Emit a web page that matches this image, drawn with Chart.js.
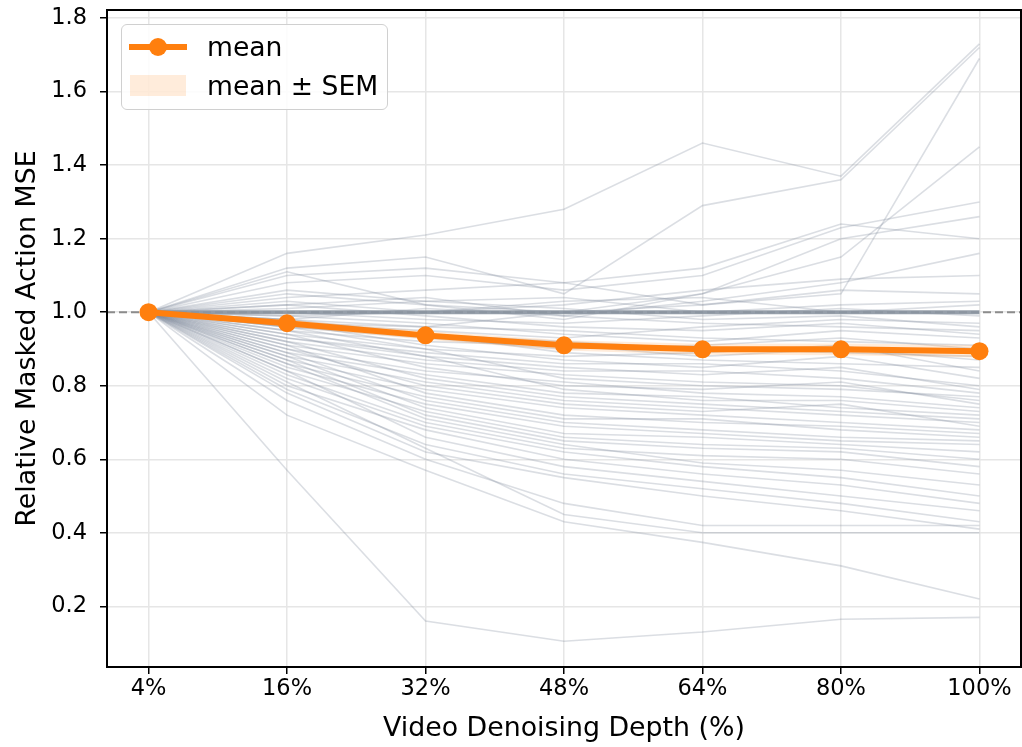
<!DOCTYPE html>
<html>
<head>
<meta charset="utf-8">
<script src="https://cdn.jsdelivr.net/npm/chart.js@4.4.1/dist/chart.umd.min.js"></script>
<style>
  html, body { margin: 0; padding: 0; background: #fff; overflow: hidden; }
  #wrap { position: relative; width: 1022px; height: 747px; overflow: hidden; font-family: "DejaVu Sans", sans-serif; }
  #myChart { display: block; }
  #legend {
    position: absolute; left: 121px; top: 24px; width: 265px; height: 84px;
    border: 1.5px solid #d0d0d0; border-radius: 6px; background: rgba(255,255,255,0.85);
  }
  .row { position: absolute; left: 0; height: 30px; width: 100%; }
  .row span { position: absolute; left: 85px; top: 0; font-size: 26.6px; line-height: 30px; color: #000; }
  .meanLine { position: absolute; left: 7px; top: 12px; width: 58px; height: 6px; background: #ff7f0e; }
  .meanDot { position: absolute; left: 27px; top: 6px; width: 18px; height: 18px; border-radius: 50%; background: #ff7f0e; }
  .semPatch { position: absolute; left: 8px; top: 4px; width: 56px; height: 21px; background: rgba(255,127,14,0.15); }
</style>
</head>
<body>
<div id="wrap">
  <canvas id="myChart" width="1030" height="747"></canvas>
  <div id="legend">
    <div class="row" style="top:7px"><div class="meanLine"></div><div class="meanDot"></div><span>mean</span></div>
    <div class="row" style="top:46px"><div class="semPatch"></div><span>mean ± SEM</span></div>
  </div>
</div>
<script>
// x categories
const depthLabels = ["4%", "16%", "32%", "48%", "64%", "80%", "100%"];
const yTicks = [0.2, 0.4, 0.6, 0.8, 1.0, 1.2, 1.4, 1.6, 1.8];

// mean and SEM across runs
const meanValues = [1.0, 0.970, 0.937, 0.910, 0.899, 0.899, 0.894];
const semValues = [0.0, 0.010, 0.012, 0.014, 0.015, 0.016, 0.017];

// run that stays on the baseline
const baselineTrace = [1, 1, 1, 1, 1, 1, 1];

// individual runs (approx)
const traces = [
  [1, 1.16, 1.21, 1.28, 1.46, 1.37, 1.73],
  [1, 1.12, 1.15, 1.05, 1.29, 1.36, 1.72],
  [1, 1.10, 1.12, 1.08, 1.02, 1.05, 1.69],
  [1, 1.05, 1.02, 0.98, 1.05, 1.15, 1.45],
  [1, 1.08, 1.10, 1.06, 1.10, 1.23, 1.30],
  [1, 1.04, 1.06, 1.08, 1.12, 1.24, 1.20],
  [1, 1.11, 1.02, 1.00, 1.05, 1.20, 1.26],
  [1, 1.03, 1.00, 1.02, 1.06, 1.09, 1.10],
  [1, 1.02, 1.04, 0.99, 1.03, 1.08, 1.16],
  [1, 0.98, 0.96, 1.00, 1.02, 1.06, 1.05],
  [1, 1.01, 1.03, 1.04, 1.00, 1.02, 1.03],
  [1, 0.99, 1.00, 1.03, 1.04, 1.00, 1.02],
  [1, 1.00, 0.98, 0.97, 0.99, 1.01, 0.99],
  [1, 0.98, 1.01, 0.99, 0.97, 0.96, 0.95],
  [1, 1.02, 0.99, 0.96, 0.95, 0.97, 0.94],
  [1, 0.97, 0.96, 0.95, 0.93, 0.92, 0.91],
  [1, 1.06, 1.03, 1.01, 0.98, 0.99, 0.96],
  [1, 0.96, 0.94, 0.92, 0.90, 0.89, 0.88],
  [1, 0.97, 0.95, 0.93, 0.96, 0.98, 0.97],
  [1, 0.99, 0.97, 0.94, 0.92, 0.95, 0.93],
  [1, 0.96, 0.93, 0.90, 0.91, 0.93, 0.90],
  [1, 0.95, 0.92, 0.91, 0.88, 0.90, 0.87],
  [1, 0.98, 0.94, 0.89, 0.87, 0.86, 0.85],
  [1, 0.94, 0.90, 0.88, 0.89, 0.91, 0.84],
  [1, 0.97, 0.91, 0.87, 0.85, 0.88, 0.82],
  [1, 0.93, 0.89, 0.86, 0.86, 0.84, 0.80],
  [1, 0.95, 0.88, 0.85, 0.83, 0.85, 0.79],
  [1, 0.92, 0.87, 0.84, 0.84, 0.82, 0.78],
  [1, 0.96, 0.90, 0.82, 0.80, 0.79, 0.77],
  [1, 0.91, 0.86, 0.83, 0.81, 0.80, 0.76],
  [1, 0.94, 0.85, 0.80, 0.79, 0.81, 0.75],
  [1, 0.90, 0.84, 0.81, 0.78, 0.77, 0.74],
  [1, 0.93, 0.88, 0.79, 0.76, 0.76, 0.73],
  [1, 0.89, 0.83, 0.78, 0.77, 0.74, 0.72],
  [1, 0.92, 0.82, 0.77, 0.75, 0.73, 0.71],
  [1, 0.88, 0.81, 0.76, 0.74, 0.72, 0.70],
  [1, 0.90, 0.80, 0.75, 0.73, 0.75, 0.69],
  [1, 0.87, 0.79, 0.74, 0.72, 0.70, 0.68],
  [1, 0.91, 0.78, 0.72, 0.70, 0.69, 0.67],
  [1, 0.86, 0.77, 0.71, 0.71, 0.68, 0.66],
  [1, 0.89, 0.76, 0.70, 0.68, 0.66, 0.65],
  [1, 0.85, 0.75, 0.69, 0.67, 0.65, 0.64],
  [1, 0.88, 0.74, 0.67, 0.66, 0.64, 0.62],
  [1, 0.84, 0.73, 0.66, 0.64, 0.63, 0.60],
  [1, 0.87, 0.72, 0.65, 0.63, 0.62, 0.58],
  [1, 0.83, 0.70, 0.63, 0.61, 0.60, 0.56],
  [1, 0.86, 0.71, 0.64, 0.59, 0.57, 0.53],
  [1, 0.82, 0.69, 0.62, 0.58, 0.55, 0.50],
  [1, 0.80, 0.68, 0.60, 0.56, 0.53, 0.48],
  [1, 0.84, 0.66, 0.58, 0.54, 0.50, 0.46],
  [1, 0.79, 0.64, 0.56, 0.52, 0.48, 0.43],
  [1, 0.81, 0.63, 0.45, 0.40, 0.40, 0.40],
  [1, 0.78, 0.62, 0.55, 0.50, 0.46, 0.41],
  [1, 0.76, 0.60, 0.48, 0.42, 0.42, 0.42],
  [1, 0.72, 0.57, 0.43, 0.374, 0.31, 0.22],
  [1, 0.57, 0.16, 0.105, 0.13, 0.165, 0.17],
];

const toPoints = (arr) => arr.map((v, i) => ({ x: i, y: v }));

const datasets = [];
// mean line on top
datasets.push({
  data: toPoints(meanValues),
  borderColor: "#ff7f0e",
  backgroundColor: "#ff7f0e",
  borderWidth: 6,
  pointRadius: 9,
  pointBorderWidth: 0,
  order: 0,
});
// SEM band (upper fills down to lower)
datasets.push({
  data: toPoints(meanValues.map((m, i) => m + semValues[i])),
  borderWidth: 0,
  pointRadius: 0,
  backgroundColor: "rgba(255,127,14,0.15)",
  fill: "+1",
  order: 1,
});
datasets.push({
  data: toPoints(meanValues.map((m, i) => m - semValues[i])),
  borderWidth: 0,
  pointRadius: 0,
  fill: false,
  order: 1,
});
datasets.push({
  data: toPoints(baselineTrace),
  borderColor: "rgba(140,150,162,0.9)",
  borderWidth: 4,
  pointRadius: 0,
  order: 2,
});
traces.forEach((t) => {
  datasets.push({
    data: toPoints(t),
    borderColor: "rgba(125,138,155,0.28)",
    borderWidth: 1.6,
    pointRadius: 0,
    order: 3,
  });
});

// dashed reference line at y = 1 across the full axes
const refLine = {
  id: "refLine",
  beforeDatasetsDraw(chart) {
    const { ctx, chartArea, scales } = chart;
    const y = scales.y.getPixelForValue(1.0);
    ctx.save();
    ctx.strokeStyle = "#8c8c8c";
    ctx.lineWidth = 2;
    ctx.setLineDash([8, 4]);
    ctx.beginPath();
    ctx.moveTo(chartArea.left, y);
    ctx.lineTo(chartArea.right, y);
    ctx.stroke();
    ctx.restore();
  },
};

// top and right spines
const frame = {
  id: "frame",
  afterDraw(chart) {
    const { ctx, chartArea } = chart;
    ctx.save();
    ctx.strokeStyle = "#000";
    ctx.lineWidth = 2;
    ctx.strokeRect(chartArea.left, chartArea.top, chartArea.right - chartArea.left, chartArea.bottom - chartArea.top);
    ctx.restore();
  },
};

const tickFont = { family: "DejaVu Sans", size: 22.5 };
const labelFont = { family: "DejaVu Sans", size: 26.8 };

new Chart(document.getElementById("myChart"), {
  type: "line",
  data: { datasets },
  plugins: [refLine, frame],
  options: {
    responsive: false,
    animation: false,
    layout: { padding: { top: 10, right: 1, left: 0, bottom: 0 } },
    plugins: { legend: { display: false }, tooltip: { enabled: false } },
    elements: { line: { tension: 0 } },
    scales: {
      x: {
        type: "linear",
        min: -0.3,
        max: 6.3,
        afterFit: (s) => { s.height = 80; s.paddingLeft = 0; s.paddingRight = 0; },
        afterBuildTicks: (s) => { s.ticks = depthLabels.map((_, i) => ({ value: i })); },
        ticks: {
          color: "#000",
          font: tickFont,
          padding: 2,
          maxRotation: 0,
          callback: (v) => depthLabels[v],
        },
        grid: { color: "#e6e6e6", lineWidth: 1.5, tickLength: 7, tickColor: "#000", tickWidth: 1.5 },
        border: { color: "#000", width: 2 },
        title: { display: true, text: "Video Denoising Depth (%)", color: "#000", font: labelFont, padding: { top: 0, bottom: 2 } },
      },
      y: {
        min: 0.035,
        max: 1.822,
        afterFit: (s) => { s.width = 107; s.paddingTop = 0; s.paddingBottom = 0; },
        afterBuildTicks: (s) => { s.ticks = yTicks.map((v) => ({ value: v })); },
        ticks: {
          color: "#000",
          font: tickFont,
          padding: 13,
          callback: (v) => v.toFixed(1),
        },
        grid: { color: "#e6e6e6", lineWidth: 1.5, tickLength: 7, tickColor: "#000", tickWidth: 1.5 },
        border: { color: "#000", width: 2 },
        title: { display: true, text: "Relative Masked Action MSE", color: "#000", font: labelFont, padding: { top: 12, bottom: 0 } },
      },
    },
  },
});
</script>
</body>
</html>
